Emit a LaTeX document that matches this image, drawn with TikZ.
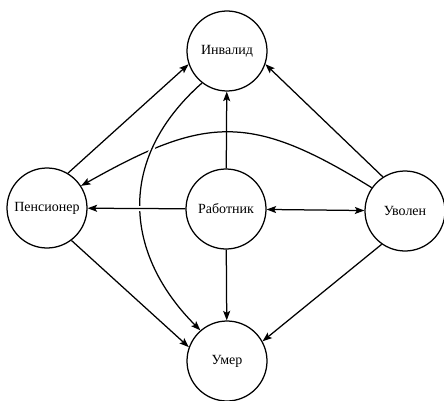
\documentclass[tikz,border=0pt]{standalone}
\usepackage{fontspec}
\setmainfont{Liberation Serif}
\usetikzlibrary{arrows.meta}
\pgfdeclarelayer{bg}
\pgfsetlayers{bg,main}
\begin{document}
\begin{tikzpicture}[x=1pt,y=-1pt,
  state/.style={circle, draw, line width=1.25pt, fill=white, minimum size=80pt, inner sep=0pt, font=\fontsize{14}{16}\selectfont},
  edge/.style={line width=1.25pt, -{Stealth[length=9.5pt,width=7pt,inset=2pt]}},
  gap/.style={preaction={draw=white, line width=5pt, -}}]
\useasboundingbox (0,0) rectangle (444,401);
\node[state] (inv) at (227,51) {Инвалид};
\node[state] (rab) at (226,209) {Работник};
\node[state] (pen) at (47,208) {Пенсионер};
\node[state] (uv) at (405,211) {Уволен};
\node[state] (um) at (227,361) {Умер};
\begin{pgfonlayer}{bg}
\draw[edge] (uv.145) .. controls (250,112) and (205,116) .. (pen.33);
\draw[edge, gap] (inv.232) .. controls (115,160) and (125,255) .. (um.131);
\draw[edge, gap] (rab) -- (pen);
\draw[edge] (pen.59) -- (inv.199);
\draw[edge] (uv.123) -- (inv.-19);
\draw[edge] (rab) -- (inv);
\draw[line width=1.25pt, {Stealth[length=9.5pt,width=7pt,inset=2pt]}-{Stealth[length=9.5pt,width=7pt,inset=2pt]}] (rab) -- (uv);
\draw[edge] (rab) -- (um);
\draw[edge] (pen.-53) -- (um.160);
\draw[edge] (uv.-125) -- (um.29);
\end{pgfonlayer}
\end{tikzpicture}
\end{document}
